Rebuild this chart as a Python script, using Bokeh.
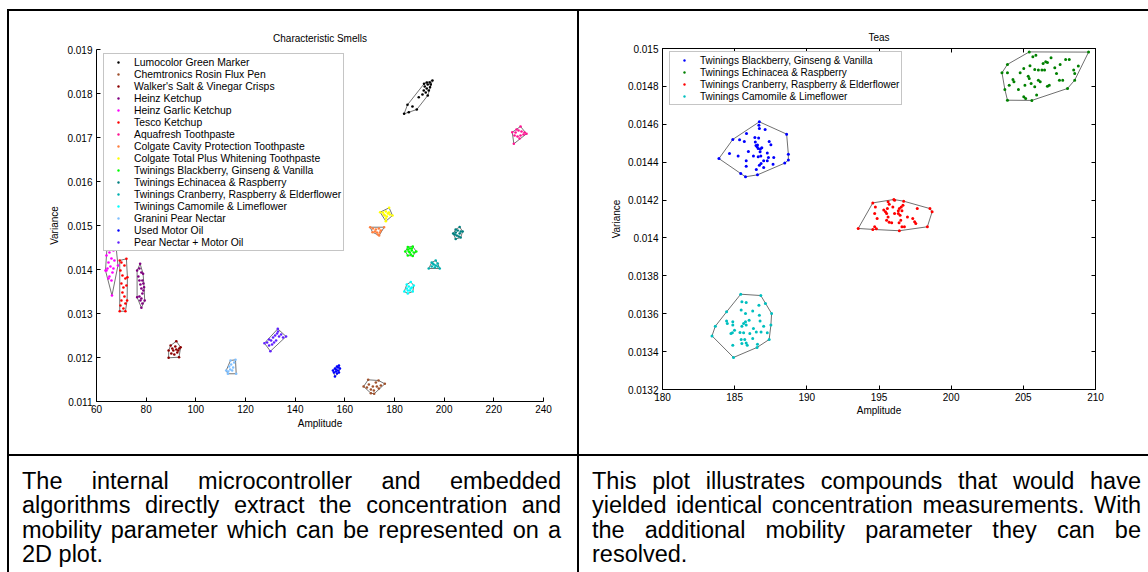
from bokeh.plotting import figure
from bokeh.models import Range1d, FixedTicker, LinearAxis, Div, Spacer
from bokeh.layouts import row, column
from bokeh.embed import file_html
from bokeh.resources import INLINE

FONT = "Liberation Sans"

# ---------------- Characteristic Smells (left chart) ----------------
smell_x_ticks = [60, 80, 100, 120, 140, 160, 180, 200, 220, 240]
smell_y_ticks = [0.011, 0.012, 0.013, 0.014, 0.015, 0.016, 0.017, 0.018, 0.019]
smell_y_labels = ["0.011", "0.012", "0.013", "0.014", "0.015", "0.016", "0.017", "0.018", "0.019"]

lumocolor_amp = [183.87, 185.23, 191.90, 195.28, 194.31, 188.97, 187.24, 185.75, 189.77, 191.26,
                 192.18, 192.99, 193.39, 193.79, 192.58, 194.19, 193.39, 191.78, 194.59, 192.99]
lumocolor_var = [0.017539, 0.017743, 0.018220, 0.018295, 0.018143, 0.017636, 0.017705, 0.017575, 0.017916, 0.017977,
                 0.018159, 0.018114, 0.018205, 0.018068, 0.018023, 0.018250, 0.017955, 0.018068, 0.018205, 0.018250]

rosin_amp = [167.55, 169.40, 173.58, 176.11, 171.81, 170.49, 169.68, 171.29, 172.49, 173.70, 170.49, 174.50, 171.69, 168.88, 172.90]
rosin_var = [0.011341, 0.011493, 0.011477, 0.011402, 0.011175, 0.011189, 0.011386, 0.011341, 0.011432, 0.011295, 0.011273, 0.011364, 0.011250, 0.011318, 0.011341]

crisps_amp = [89.05, 92.14, 93.87, 93.23, 89.05, 89.85, 90.94, 92.14, 92.54, 93.35, 91.34, 90.13, 92.94, 91.74, 90.53]
crisps_var = [0.012159, 0.012370, 0.012234, 0.012007, 0.011993, 0.012273, 0.012159, 0.012182, 0.012114, 0.012205, 0.012068, 0.012091, 0.012159, 0.012250, 0.012205]

heinz_amp = [77.56, 78.76, 79.16, 79.41, 78.08, 76.35, 76.35, 77.28, 78.08, 76.87, 78.48, 77.68, 78.08, 78.88,
             78.48, 77.28, 77.68, 78.48, 78.08, 78.88, 77.28]
heinz_var = [0.014130, 0.013902, 0.013598, 0.013295, 0.013130, 0.013370, 0.013977, 0.014023, 0.013932, 0.013841, 0.013750, 0.013659, 0.013568, 0.013523,
             0.013455, 0.013386, 0.013295, 0.013227, 0.013341, 0.013682, 0.013750]

garlic_amp = [63.62, 64.42, 67.63, 68.64, 66.23, 64.02, 65.22, 66.83, 66.03, 64.82, 67.23, 64.42, 65.62, 66.43, 65.22, 64.02, 66.83, 66.03, 64.82]
garlic_var = [0.013977, 0.014659, 0.014659, 0.014091, 0.013409, 0.014318, 0.014386, 0.014432, 0.014250, 0.014159, 0.014205, 0.014023, 0.014068, 0.013932, 0.013841, 0.013977, 0.014023, 0.013750, 0.013795]

tesco_amp = [69.36, 72.05, 72.45, 72.33, 71.65, 69.36, 70.04, 71.25, 69.64, 70.45, 71.65, 70.04, 70.85, 72.05, 70.45, 71.25, 70.04, 71.65, 70.85, 69.64]
tesco_var = [0.014205, 0.014243, 0.013825, 0.013295, 0.013052, 0.013052, 0.014159, 0.014091, 0.013977, 0.013864, 0.013795, 0.013682, 0.013591, 0.013636, 0.013477, 0.013386, 0.013295, 0.013227, 0.013114, 0.013182]

aquafresh_amp = [227.42, 230.75, 233.16, 228.06, 228.74, 229.95, 231.15, 231.96, 229.55, 230.75, 232.36, 228.34, 230.35, 229.14]
aquafresh_var = [0.017120, 0.017250, 0.017084, 0.016857, 0.017114, 0.017159, 0.017136, 0.017068, 0.017023, 0.017045, 0.017114, 0.017045, 0.016977, 0.017182]

cavity_amp = [170.20, 175.83, 173.82, 171.17, 171.29, 172.49, 173.70, 174.50, 172.90, 172.09, 174.10, 173.30]
cavity_var = [0.014961, 0.014961, 0.014773, 0.014848, 0.014932, 0.014909, 0.014932, 0.014886, 0.014841, 0.014864, 0.014841, 0.014795]

whitening_amp = [174.22, 177.84, 179.20, 176.51, 175.31, 176.51, 177.32, 176.11, 176.91, 177.72, 175.71, 176.51, 178.12]
whitening_var = [0.015302, 0.015402, 0.015227, 0.015098, 0.015295, 0.015318, 0.015273, 0.015227, 0.015205, 0.015295, 0.015250, 0.015159, 0.015250]

blackberry_s_amp = [184.35, 185.35, 187.36, 188.77, 187.36, 185.35, 185.35, 186.16, 186.96, 186.16, 186.56, 187.76, 185.75, 186.96]
blackberry_s_var = [0.014409, 0.014511, 0.014523, 0.014409, 0.014307, 0.014318, 0.014455, 0.014477, 0.014432, 0.014386, 0.014341, 0.014386, 0.014409, 0.014477]

echinacea_s_amp = [203.63, 204.64, 206.24, 207.45, 206.65, 204.64, 204.64, 205.44, 206.24, 205.04, 205.84, 206.65, 204.24]
echinacea_s_var = [0.014818, 0.014909, 0.014966, 0.014864, 0.014727, 0.014693, 0.014841, 0.014886, 0.014818, 0.014773, 0.014750, 0.014864, 0.014795]

cranberry_s_amp = [193.79, 194.99, 196.60, 197.40, 198.21, 194.99, 195.80, 196.60, 197.40, 196.20, 195.40]
cranberry_s_var = [0.014023, 0.014159, 0.014205, 0.014136, 0.014023, 0.014068, 0.014114, 0.014091, 0.014068, 0.014045, 0.014136]

camomile_s_amp = [183.95, 184.95, 186.56, 187.76, 187.36, 185.35, 184.95, 185.75, 186.56, 186.16, 186.96, 185.35]
camomile_s_var = [0.013500, 0.013659, 0.013716, 0.013636, 0.013500, 0.013455, 0.013568, 0.013614, 0.013568, 0.013523, 0.013591, 0.013523]

granini_amp = [112.23, 113.96, 115.97, 116.25, 112.91, 113.44, 114.24, 115.04, 114.64, 113.84, 115.44, 113.03]
granini_var = [0.011705, 0.011932, 0.011948, 0.011630, 0.011630, 0.011795, 0.011841, 0.011773, 0.011705, 0.011727, 0.011886, 0.011682]

motoroil_amp = [155.22, 156.02, 156.83, 157.63, 158.03, 157.23, 156.42, 155.62, 156.83, 156.02, 157.63, 156.42, 157.23]
motoroil_var = [0.011705, 0.011750, 0.011795, 0.011818, 0.011750, 0.011705, 0.011682, 0.011659, 0.011636, 0.011568, 0.011659, 0.011727, 0.011773]

mix_amp = [127.62, 133.00, 136.34, 130.03, 128.70, 129.51, 130.31, 131.11, 131.92, 132.72, 133.52, 134.33, 132.32, 130.71, 129.51, 135.13, 133.12, 131.51]
mix_var = [0.012325, 0.012652, 0.012477, 0.012143, 0.012341, 0.012409, 0.012386, 0.012455, 0.012500, 0.012545, 0.012477, 0.012523, 0.012386, 0.012295, 0.012273, 0.012455, 0.012591, 0.012341]

smell_names = ["Lumocolor Green Marker", "Chemtronics Rosin Flux Pen", "Walker's Salt & Vinegar Crisps",
               "Heinz Ketchup", "Heinz Garlic Ketchup", "Tesco Ketchup", "Aquafresh Toothpaste",
               "Colgate Cavity Protection Toothpaste", "Colgate Total Plus Whitening Toothpaste",
               "Twinings Blackberry, Ginseng & Vanilla", "Twinings Echinacea & Raspberry",
               "Twinings Cranberry, Raspberry & Elderflower", "Twinings Camomile & Limeflower",
               "Granini Pear Nectar", "Used Motor Oil", "Pear Nectar + Motor Oil"]
smell_colors = ["#000000", "#a0522d", "#8b0000", "#800080", "#ff00ff", "#ff0000", "#ff1493",
                "#ff8040", "#ffff00", "#00ff00", "#008080", "#00b0b0", "#00ffff",
                "#80c0ff", "#0000ff", "#6020ff"]
smell_amps = [lumocolor_amp, rosin_amp, crisps_amp, heinz_amp, garlic_amp, tesco_amp, aquafresh_amp,
              cavity_amp, whitening_amp, blackberry_s_amp, echinacea_s_amp, cranberry_s_amp, camomile_s_amp,
              granini_amp, motoroil_amp, mix_amp]
smell_vars = [lumocolor_var, rosin_var, crisps_var, heinz_var, garlic_var, tesco_var, aquafresh_var,
              cavity_var, whitening_var, blackberry_s_var, echinacea_s_var, cranberry_s_var, camomile_s_var,
              granini_var, motoroil_var, mix_var]

# ---------------- Teas (right chart) ----------------
tea_x_ticks = [180, 185, 190, 195, 200, 205, 210]
tea_y_ticks = [0.0132, 0.0134, 0.0136, 0.0138, 0.014, 0.0142, 0.0144, 0.0146, 0.0148, 0.015]
tea_y_labels = ["0.0132", "0.0134", "0.0136", "0.0138", "0.014", "0.0142", "0.0144", "0.0146", "0.0148", "0.015"]

blackberry_amp = [183.91, 184.87, 186.71, 188.60, 188.72, 188.72, 188.47, 186.58, 185.75, 185.42,
                  186.40, 186.66, 186.71, 186.68, 187.11, 185.82, 185.34, 185.67, 184.64, 185.24,
                  185.95, 186.30, 186.48, 186.55, 186.63, 186.78, 186.88, 187.39, 187.51, 187.26,
                  187.71, 187.01, 186.83, 186.71, 187.26, 187.01, 186.50, 185.80, 185.80, 187.66,
                  187.34, 186.81, 186.63, 186.43, 186.58, 186.76]
blackberry_var = [0.014419, 0.014520, 0.014613, 0.014548, 0.014442, 0.014411, 0.014395, 0.014333, 0.014323, 0.014340,
                  0.014530, 0.014527, 0.014578, 0.014595, 0.014572, 0.014551, 0.014518, 0.014509, 0.014446, 0.014433,
                  0.014456, 0.014432, 0.014488, 0.014481, 0.014472, 0.014470, 0.014476, 0.014509, 0.014492, 0.014449,
                  0.014425, 0.014407, 0.014393, 0.014384, 0.014407, 0.014372, 0.014361, 0.014407, 0.014379, 0.014389,
                  0.014425, 0.014433, 0.014428, 0.014507, 0.014490, 0.014455]

echinacea_amp = [203.52, 203.90, 205.41, 209.52, 208.56, 208.06, 205.59, 203.90, 203.72,
                 205.87, 205.66, 206.92, 206.55, 206.67, 206.37, 207.93, 208.18, 207.55, 207.18,
                 205.46, 205.03, 204.78, 205.34, 205.41, 205.79, 206.04, 206.29, 206.47, 207.30,
                 208.49, 208.56, 208.81, 207.50, 207.73, 206.80, 206.67, 205.54, 205.79, 205.11,
                 204.66, 204.28, 204.35, 204.02, 205.03, 205.16, 205.92, 206.04, 206.17, 203.90]
echinacea_var = [0.014872, 0.014916, 0.014982, 0.014981, 0.014833, 0.014789, 0.014726, 0.014727, 0.014784,
                 0.014965, 0.014956, 0.014951, 0.014930, 0.014926, 0.014921, 0.014942, 0.014942, 0.014916, 0.014898,
                 0.014909, 0.014894, 0.014872, 0.014854, 0.014842, 0.014889, 0.014886, 0.014886, 0.014886, 0.014868,
                 0.014886, 0.014868, 0.014907, 0.014833, 0.014833, 0.014806, 0.014801, 0.014815, 0.014798, 0.014806,
                 0.014784, 0.014836, 0.014824, 0.014806, 0.014745, 0.014736, 0.014754, 0.014833, 0.014824, 0.014872]

cranberry_amp = [193.56, 194.57, 196.03, 196.71, 198.53, 198.68, 198.35, 196.41, 194.57,
                 194.75, 194.70, 194.87, 194.70, 194.82, 195.33, 195.45, 195.63, 195.71, 195.58,
                 195.53, 195.63, 195.53, 195.71, 195.88, 195.96, 196.08, 196.34, 196.41, 196.54,
                 196.66, 196.59, 196.46, 196.51, 196.39, 196.59, 196.76, 196.97, 197.34, 197.47,
                 197.65, 197.55, 196.08, 196.34]
cranberry_var = [0.014050, 0.014185, 0.014203, 0.014194, 0.014155, 0.014138, 0.014059, 0.014038, 0.014045,
                 0.014164, 0.014129, 0.014103, 0.014059, 0.014048, 0.014147, 0.014138, 0.014191, 0.014178, 0.014155,
                 0.014129, 0.014111, 0.014094, 0.014083, 0.014080, 0.014164, 0.014129, 0.014143, 0.014155, 0.014164,
                 0.014173, 0.014143, 0.014120, 0.014094, 0.014080, 0.014059, 0.014059, 0.014111, 0.014103, 0.014085,
                 0.014155, 0.014076, 0.014199, 0.014129]

camomile_amp = [183.43, 183.66, 184.44, 185.42, 186.81, 187.13, 187.56, 187.51, 187.39, 186.55, 184.92,
                185.50, 185.80, 185.45, 185.75, 186.25, 186.68, 186.71, 184.44, 184.87, 184.49,
                184.87, 185.75, 185.62, 185.80, 185.50, 186.00, 186.30, 186.76, 187.01, 186.50,
                186.83, 187.26, 184.99, 184.84, 184.74, 185.37, 185.62, 186.05, 185.45, 185.70,
                185.80, 186.25, 185.50, 185.87, 184.87, 186.58]
camomile_var = [0.013483, 0.013534, 0.013610, 0.013703, 0.013696, 0.013654, 0.013601, 0.013540, 0.013464, 0.013422, 0.013369,
                0.013663, 0.013659, 0.013619, 0.013601, 0.013615, 0.013645, 0.013592, 0.013562, 0.013557, 0.013548,
                0.013540, 0.013557, 0.013548, 0.013540, 0.013534, 0.013566, 0.013522, 0.013562, 0.013534, 0.013504,
                0.013504, 0.013499, 0.013513, 0.013499, 0.013496, 0.013501, 0.013499, 0.013496, 0.013464, 0.013464,
                0.013446, 0.013469, 0.013443, 0.013434, 0.013434, 0.013439]

tea_names = ["Twinings Blackberry, Ginseng & Vanilla", "Twinings Echinacea & Raspberry",
             "Twinings Cranberry, Raspberry & Elderflower", "Twinings Camomile & Limeflower"]
tea_colors = ["#0000ff", "#008000", "#ff0000", "#00bfbf"]
tea_amps = [blackberry_amp, echinacea_amp, cranberry_amp, camomile_amp]
tea_vars = [blackberry_var, echinacea_var, cranberry_var, camomile_var]

caption_left = ["The internal microcontroller and embedded",
                "algorithms directly extract the concentration and",
                "mobility parameter which can be represented on a",
                "2D plot."]
caption_right = ["This plot illustrates compounds that would have",
                 "yielded identical concentration measurements. With",
                 "the additional mobility parameter they can be",
                 "resolved."]


def convex_hull(xs, ys):
    pts = sorted(set(zip(xs, ys)))
    if len(pts) < 3:
        return pts

    def cross(o, a, b):
        return (a[0] - o[0]) * (b[1] - o[1]) - (a[1] - o[1]) * (b[0] - o[0])

    lower = []
    for q in pts:
        while len(lower) >= 2 and cross(lower[-2], lower[-1], q) <= 0:
            lower.pop()
        lower.append(q)
    upper = []
    for q in reversed(pts):
        while len(upper) >= 2 and cross(upper[-2], upper[-1], q) <= 0:
            upper.pop()
        upper.append(q)
    h = lower[:-1] + upper[:-1]
    return h + [h[0]]


def style_axis(ax, label_standoff, axis_standoff):
    ax.axis_line_color = "black"
    ax.axis_line_width = 1
    ax.major_tick_in = 4
    ax.major_tick_out = 0
    ax.major_tick_line_color = "black"
    ax.minor_tick_line_color = None
    ax.major_label_text_font = FONT
    ax.major_label_text_font_size = "10px"
    ax.major_label_text_color = "black"
    ax.major_label_standoff = label_standoff
    ax.axis_label_text_font = FONT
    ax.axis_label_text_font_size = "10px"
    ax.axis_label_text_font_style = "normal"
    ax.axis_label_text_color = "black"
    ax.axis_label_standoff = axis_standoff


def style_legend(lg, loc, fsize):
    lg.location = loc
    lg.padding = 2
    lg.spacing = 0
    lg.label_height = 12
    lg.glyph_height = 6
    lg.glyph_width = 24
    lg.label_standoff = 4
    lg.label_text_font = FONT
    lg.label_text_font_size = fsize
    lg.label_text_color = "black"
    lg.border_line_color = "#8c8c8c"
    lg.border_line_width = 1
    lg.background_fill_color = "white"
    lg.background_fill_alpha = 1.0


def style_title(t, standoff):
    t.align = "center"
    t.text_font = FONT
    t.text_font_size = "10px"
    t.text_font_style = "normal"
    t.text_color = "black"
    t.standoff = standoff


# ---- left figure ----
pL = figure(width=568, height=443, x_range=Range1d(60, 240), y_range=Range1d(0.011, 0.019),
            output_backend="svg", toolbar_location=None, title="Characteristic Smells",
            min_border_left=87, min_border_right=34, min_border_top=38, min_border_bottom=53)
pL.outline_line_color = None
pL.grid.visible = False
pL.background_fill_color = "white"
pL.border_fill_color = "white"
style_title(pL.title, 11)
pL.xaxis.ticker = FixedTicker(ticks=smell_x_ticks)
pL.yaxis.ticker = FixedTicker(ticks=smell_y_ticks)
pL.yaxis.major_label_overrides = dict(zip(smell_y_ticks, smell_y_labels))
pL.xaxis.axis_label = "Amplitude"
pL.yaxis.axis_label = "Variance"
style_axis(pL.xaxis[0], 3, 2)
style_axis(pL.yaxis[0], 4, 4)

for name, col, xs, ys in zip(smell_names, smell_colors, smell_amps, smell_vars):
    h = convex_hull(xs, ys)
    pL.line([q[0] for q in h], [q[1] for q in h], line_color="#505050", line_width=0.8)
    pL.scatter(xs, ys, size=2.6, marker="circle", fill_color=col, line_color=None, legend_label=name)

style_legend(pL.legend[0], (7, 150), "10.4px")

# ---- right figure ----
pR = figure(width=569, height=443, x_range=Range1d(180, 210), y_range=Range1d(0.0132, 0.015),
            output_backend="svg", toolbar_location=None, title="Teas",
            min_border_left=83, min_border_right=53, min_border_top=37, min_border_bottom=65)
pR.outline_line_color = "black"
pR.grid.visible = False
pR.background_fill_color = "white"
pR.border_fill_color = "white"
style_title(pR.title, 12)
pR.xaxis.ticker = FixedTicker(ticks=tea_x_ticks)
pR.yaxis.ticker = FixedTicker(ticks=tea_y_ticks)
pR.yaxis.major_label_overrides = dict(zip(tea_y_ticks, tea_y_labels))
pR.xaxis.axis_label = "Amplitude"
pR.yaxis.axis_label = "Variance"
style_axis(pR.xaxis[0], 3, 1)
style_axis(pR.yaxis[0], 4, 3)
top_ax = LinearAxis(ticker=FixedTicker(ticks=tea_x_ticks))
right_ax = LinearAxis(ticker=FixedTicker(ticks=tea_y_ticks))
for ax in (top_ax, right_ax):
    style_axis(ax, 0, 0)
    ax.major_label_text_font_size = "0px"
    ax.major_label_text_alpha = 0
pR.add_layout(top_ax, "above")
pR.add_layout(right_ax, "right")

for name, col, xs, ys in zip(tea_names, tea_colors, tea_amps, tea_vars):
    h = convex_hull(xs, ys)
    pR.line([q[0] for q in h], [q[1] for q in h], line_color="#707070", line_width=1)
    pR.scatter(xs, ys, size=3, marker="circle", fill_color=col, line_color=None, legend_label=name)

style_legend(pR.legend[0], (7, 284), "10px")


# ---- table frame and captions ----
def bar(w, h):
    return Div(text="", width=w, height=h, margin=0, styles={"background-color": "black"})


def caption(lines, w, pl, pr):
    parts = []
    for i, ln in enumerate(lines):
        if i < len(lines) - 1:
            al = "text-align:justify;text-align-last:justify;"
        else:
            al = "text-align:left;"
        parts.append('<div style="%s">%s</div>' % (al, ln))
    html = ('<div style="font-family:\'Liberation Sans\',Arial,sans-serif;font-size:23.5px;'
            'line-height:24.3px;color:#000;padding:13px %dpx 0 %dpx;width:%dpx;box-sizing:border-box;">%s</div>'
            % (pr, pl, w, "".join(parts)))
    return Div(text=html, width=w, height=116, margin=0)


capL = caption(caption_left, 568, 13, 16)
capR = caption(caption_right, 569, 13, 7)

layout = column(
    Spacer(width=1148, height=9, margin=0),
    row(Spacer(width=7, height=2, margin=0), bar(1141, 2), margin=0),
    row(Spacer(width=7, height=443, margin=0), bar(2, 443), column(pL, margin=0),
        bar(2, 443), column(pR, margin=0), margin=0),
    row(Spacer(width=7, height=2, margin=0), bar(1141, 2), margin=0),
    row(Spacer(width=7, height=116, margin=0), bar(2, 116), capL, bar(2, 116), capR, margin=0),
    margin=0,
)

open("out.html", "w").write(file_html(layout, INLINE))
